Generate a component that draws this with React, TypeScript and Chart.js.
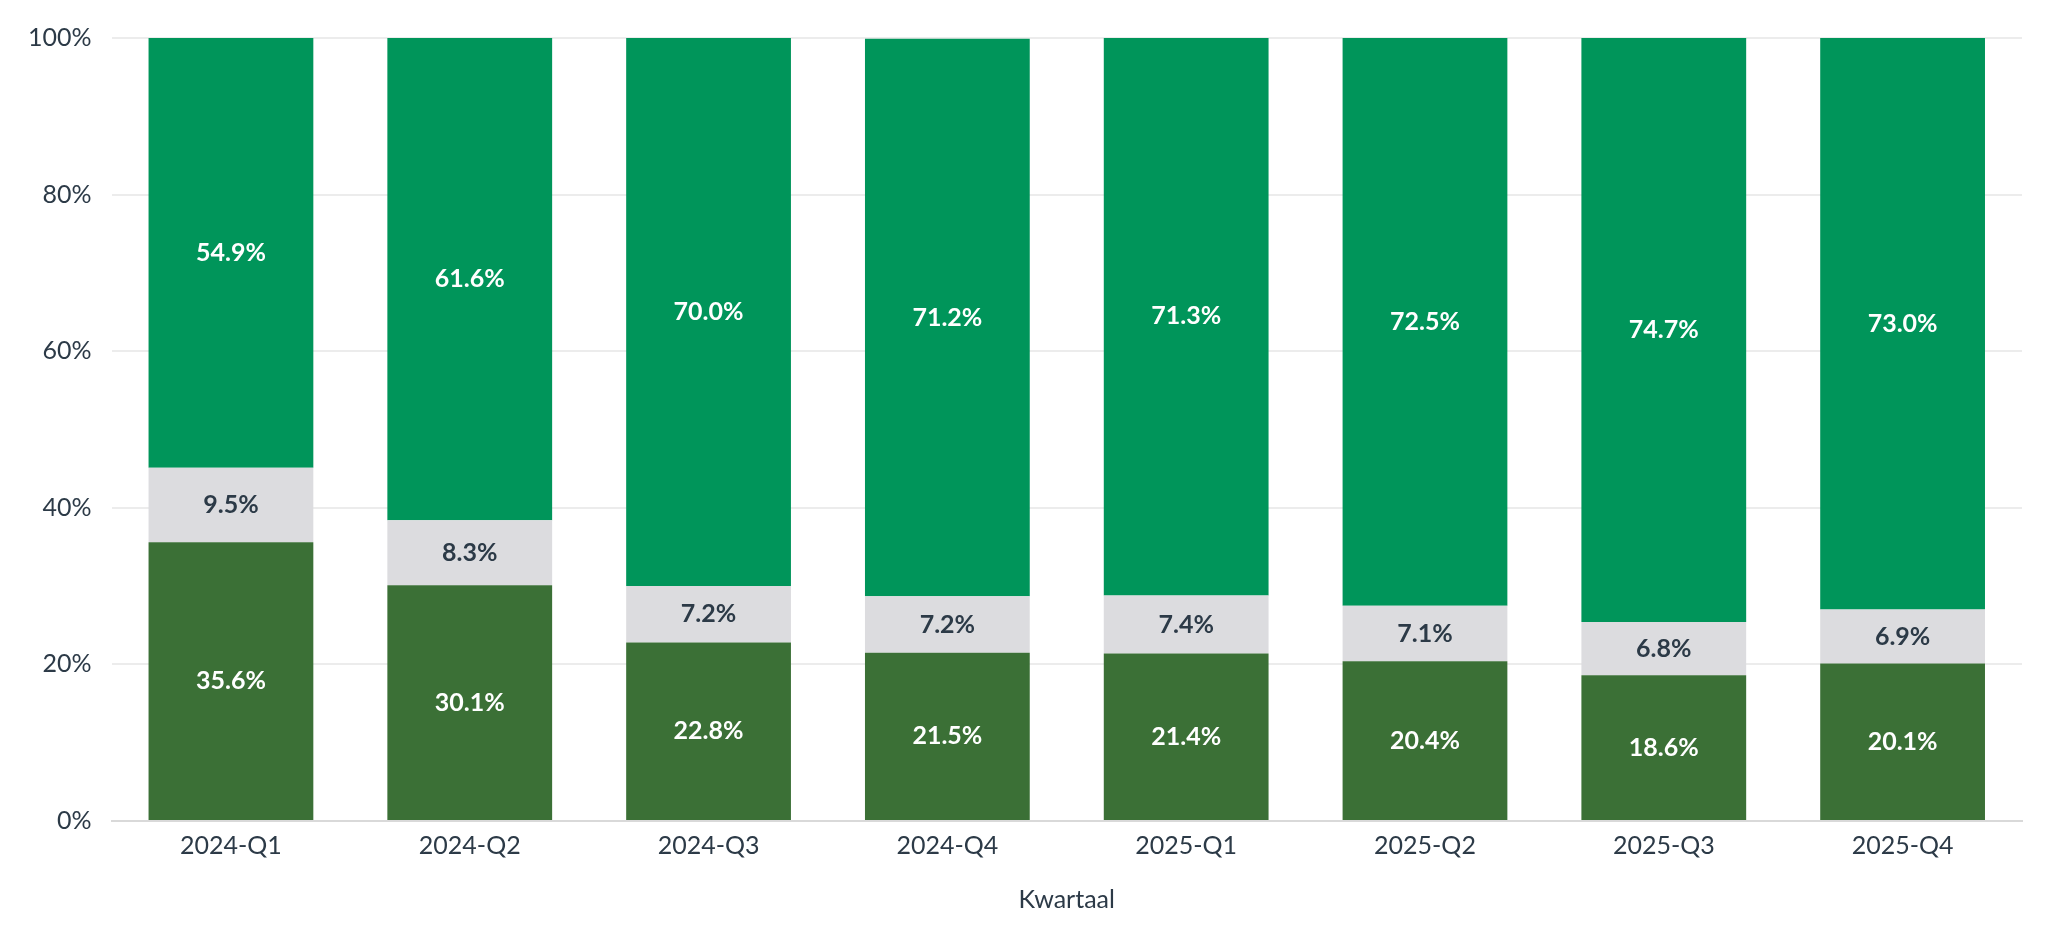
import { useEffect, useRef } from 'react'
import { Chart, registerables } from 'chart.js'
import type { ChartConfiguration, Plugin } from 'chart.js'

Chart.register(...registerables)

// Kwartalen en aandelen per segment (in %)
const quarters = ['2024-Q1', '2024-Q2', '2024-Q3', '2024-Q4', '2025-Q1', '2025-Q2', '2025-Q3', '2025-Q4']
const bottomShare = [35.6, 30.1, 22.8, 21.5, 21.4, 20.4, 18.6, 20.1]
const middleShare = [9.5, 8.3, 7.2, 7.2, 7.4, 7.1, 6.8, 6.9]
const topShare = [54.9, 61.6, 70.0, 71.2, 71.3, 72.5, 74.7, 73.0]
const yTicks = [0, 20, 40, 60, 80, 100]

const FONT = 'Lato, "Noto Sans", sans-serif'
const TEXT = '#2c3a47'
const labelColors = ['#ffffff', TEXT, '#ffffff']

// Eenvoudige data-labels: waarde in het midden van elk segment
const segmentLabels: Plugin<'bar'> = {
  id: 'segmentLabels',
  afterDatasetsDraw(chart) {
    const { ctx } = chart
    ctx.save()
    ctx.font = `bold 25px ${FONT}`
    ctx.textAlign = 'center'
    ctx.textBaseline = 'middle'
    chart.data.datasets.forEach((ds, i) => {
      const meta = chart.getDatasetMeta(i)
      ctx.fillStyle = labelColors[i]
      meta.data.forEach((bar, j) => {
        const { x, y, base } = bar.getProps(['x', 'y', 'base'], true) as any
        const v = ds.data[j] as number
        ctx.fillText(`${v.toFixed(1)}%`, x, (y + base) / 2)
      })
    })
    ctx.restore()
  },
}

export default function App() {
  const ref = useRef<HTMLCanvasElement>(null)
  useEffect(() => {
    if (!ref.current) return
    const config: ChartConfiguration<'bar'> = {
      type: 'bar',
      data: {
        labels: quarters,
        datasets: [
          { label: 'Onder', data: bottomShare, backgroundColor: '#3b7036' },
          { label: 'Midden', data: middleShare, backgroundColor: '#dcdcdf' },
          { label: 'Boven', data: topShare, backgroundColor: '#00955a' },
        ],
      },
      options: {
        animation: false,
        responsive: true,
        maintainAspectRatio: false,
        layout: { padding: { top: 30, right: 28, bottom: 5, left: 0 } },
        plugins: { legend: { display: false }, tooltip: { enabled: false } },
        datasets: { bar: { categoryPercentage: 1, barPercentage: 0.69 } },
        scales: {
          x: {
            stacked: true,
            grid: { display: false, drawTicks: false },
            border: { color: '#d9d9d9', width: 2 },
            ticks: { color: TEXT, font: { family: FONT, size: 25 }, padding: 10 },
            title: { display: true, text: 'Kwartaal', color: TEXT, font: { family: FONT, size: 25 }, padding: { top: 14 } },
          },
          y: {
            stacked: true,
            min: 0,
            max: 100,
            afterBuildTicks: (axis) => { axis.ticks = yTicks.map((value) => ({ value })) },
            // tick-padding niet meetellen als ruimte boven de bovenste tick
            afterFit: (axis) => { axis.paddingTop = 15 },
            grid: { color: '#ececec', lineWidth: 2, drawTicks: false },
            border: { display: false },
            ticks: { color: TEXT, font: { family: FONT, size: 25 }, padding: 20, callback: (v) => `${v}%` },
          },
        },
      },
      plugins: [segmentLabels],
    }
    const chart = new Chart(ref.current, config)
    return () => chart.destroy()
  }, [])
  return (
    <div style={{ height: 'calc(100vh - 16px)' }}>
      <canvas ref={ref} />
    </div>
  )
}
